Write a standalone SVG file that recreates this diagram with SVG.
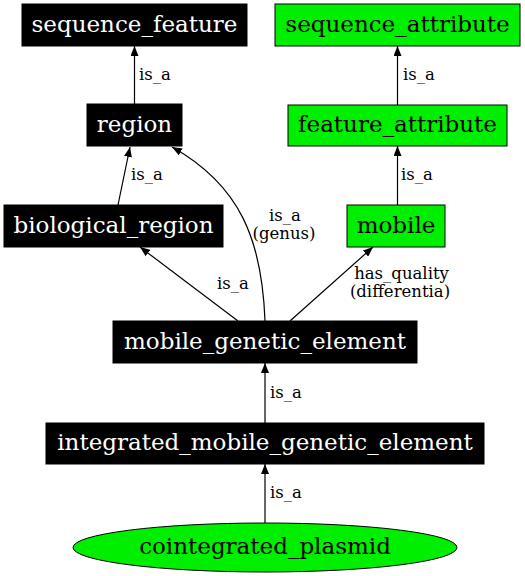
<svg xmlns="http://www.w3.org/2000/svg" width="525" height="576" viewBox="0 0 525 576">
<style>
.bk rect{fill:#000;stroke:#000;stroke-width:1}
.bk text{fill:#fff}
.gr rect,.gr ellipse{fill:#00ee00;stroke:#000;stroke-width:1}
.gr text{fill:#000}
.nl{font-family:"DejaVu Serif",serif;font-size:23px;text-anchor:middle}
.el{font-family:"DejaVu Serif",serif;font-size:16.5px;fill:#000}
.e{fill:none;stroke:#000;stroke-width:1.2;marker-end:url(#ah)}
</style>
<defs>
<marker id="ah" markerUnits="userSpaceOnUse" viewBox="0 0 10 8" refX="10" refY="4" markerWidth="10" markerHeight="8" orient="auto">
<path d="M0,0 L10,4 L0,8 z" fill="#000"/>
</marker>
</defs>
<rect width="525" height="576" fill="#fff"/>
<g id="connectors">
<path class="e" d="M134.5,104 L134.5,46"/>
<path class="e" d="M397.5,105 L397.5,46"/>
<path class="e" d="M118,205 L130,147"/>
<path class="e" d="M397.5,205 L397.5,146"/>
<path class="e" d="M265,321 C262,240 240,185 172,147"/>
<path class="e" d="M238,321 L140,247"/>
<path class="e" d="M290,321 L373,247"/>
<path class="e" d="M265,423 L265,363"/>
<path class="e" d="M265,523 L265,464"/>
<text class="el" x="139" y="80">is_a</text>
<text class="el" x="403" y="80">is_a</text>
<text class="el" x="131" y="180">is_a</text>
<text class="el" x="401" y="180">is_a</text>
<text class="el" x="285" y="221" text-anchor="middle">is_a</text>
<text class="el" x="284" y="239" text-anchor="middle">(genus)</text>
<text class="el" x="217" y="289">is_a</text>
<text class="el" x="401.5" y="279" text-anchor="middle">has_quality</text>
<text class="el" x="400" y="297" text-anchor="middle">(differentia)</text>
<text class="el" x="270" y="398">is_a</text>
<text class="el" x="270" y="498">is_a</text>
</g>
<g id="sequence_feature" class="bk"><rect x="22" y="4" width="225" height="42"/><text class="nl" x="134.5" y="32">sequence_feature</text></g>
<g id="sequence_attribute" class="gr"><rect x="275" y="4" width="245" height="42"/><text class="nl" x="397.5" y="32">sequence_attribute</text></g>
<g id="region" class="bk"><rect x="87" y="104" width="95" height="42"/><text class="nl" x="134.5" y="132">region</text></g>
<g id="feature_attribute" class="gr"><rect x="288" y="105" width="219" height="41"/><text class="nl" x="397.5" y="132">feature_attribute</text></g>
<g id="biological_region" class="bk"><rect x="4" y="205" width="219" height="42"/><text class="nl" x="113.5" y="233">biological_region</text></g>
<g id="mobile" class="gr"><rect x="347" y="205" width="98" height="42"/><text class="nl" x="396" y="233">mobile</text></g>
<g id="mobile_genetic_element" class="bk"><rect x="113" y="321" width="304" height="42"/><text class="nl" x="265" y="349">mobile_genetic_element</text></g>
<g id="integrated_mobile_genetic_element" class="bk"><rect x="46" y="423" width="438" height="41"/><text class="nl" x="265" y="450">integrated_mobile_genetic_element</text></g>
<g id="cointegrated_plasmid" class="gr"><ellipse cx="265" cy="547.5" rx="192" ry="24.5"/><text class="nl" x="265" y="554">cointegrated_plasmid</text></g>
</svg>
